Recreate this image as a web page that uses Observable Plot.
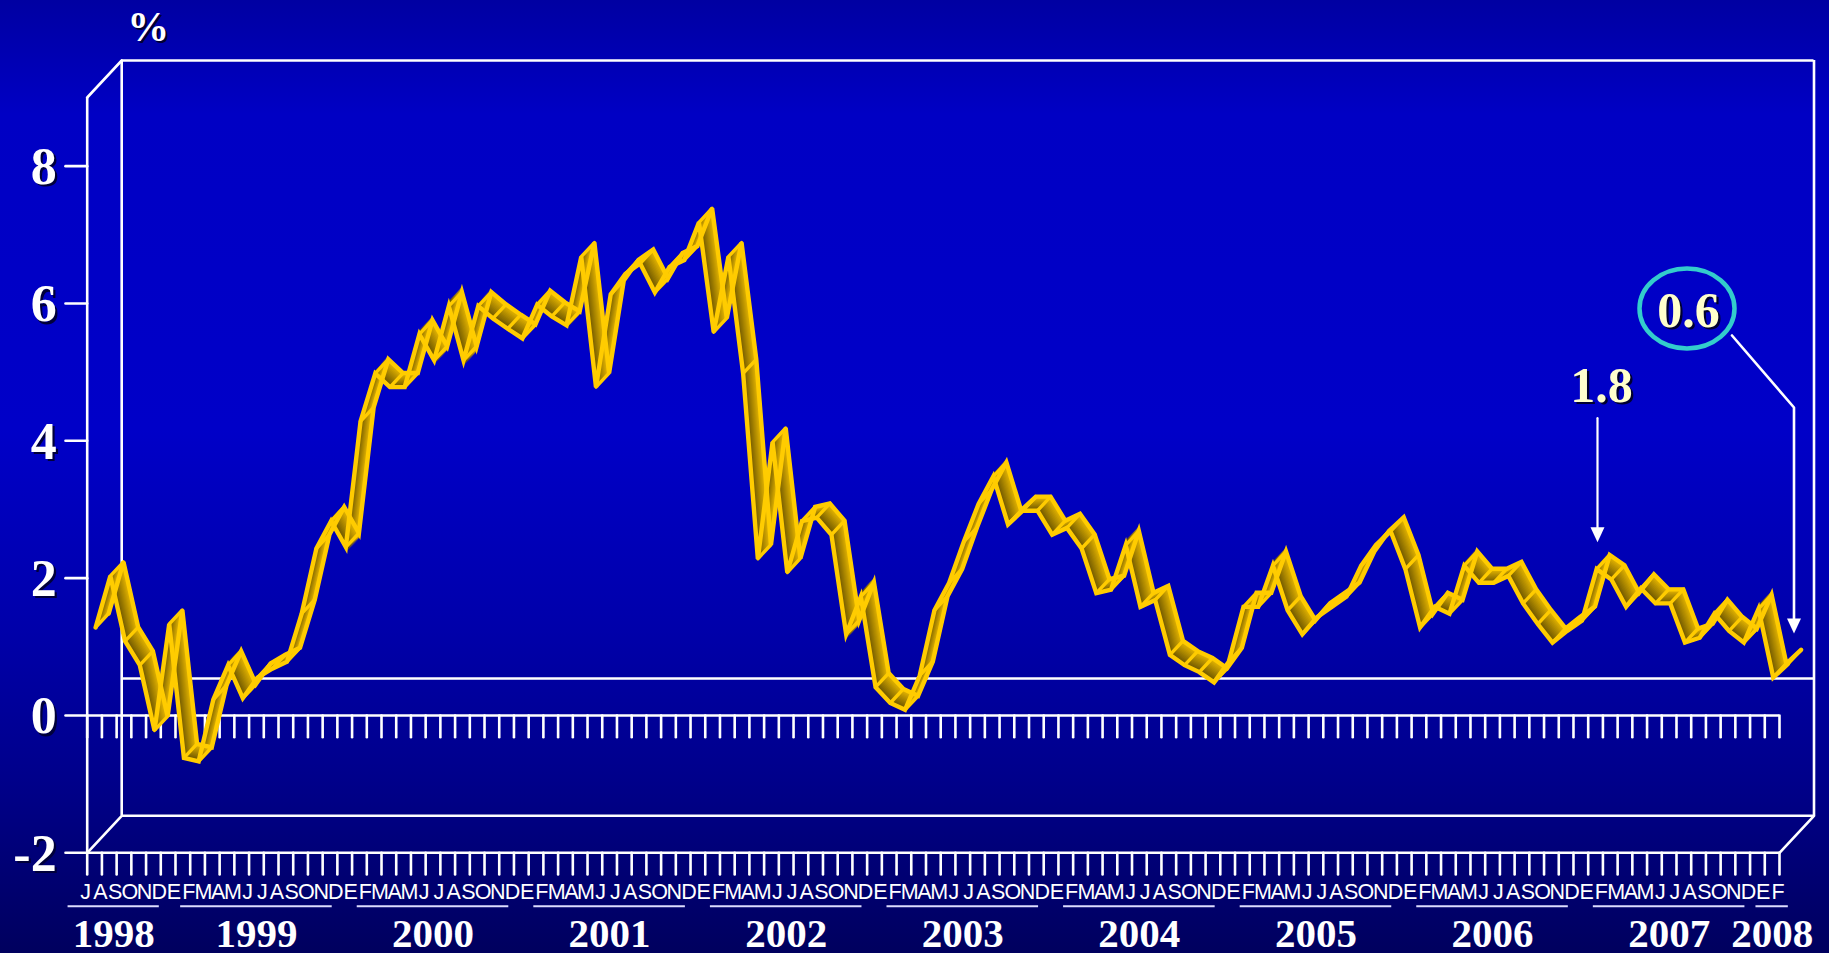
<!DOCTYPE html>
<html><head><meta charset="utf-8">
<script src="https://cdn.jsdelivr.net/npm/d3@7"></script>
<script src="https://cdn.jsdelivr.net/npm/@observablehq/plot@0.6"></script>
<style>
html,body{margin:0;padding:0;width:1829px;height:953px;overflow:hidden;
background:linear-gradient(to bottom,#0000a2 0%,#0000c4 12%,#0000c8 45%,#0000aa 66%,#00008a 82%,#00005e 100%);}
#chart svg{display:block}
</style></head><body><div id="chart"></div>
<script>
// ---- data ----
const monthInitials = ["E","F","M","A","M","J","J","A","S","O","N","D"];
const years = [1998,1999,2000,2001,2002,2003,2004,2005,2006,2007,2008];
const firstMonth = 6; // series starts in July 1998
const values1998 = [1.15, 1.9, 0.95, 0.6, -0.35, 1.2];
const values1999 = [-0.75, -0.8, 0.1, 0.6, 0.12, 0.42, 0.55, 0.65, 1.35, 2.3, 2.7, 2.32];
const values2000 = [4.15, 4.85, 4.65, 4.65, 5.42, 5.04, 5.83, 5.04, 5.83, 5.65, 5.5, 5.36];
const values2001 = [5.85, 5.68, 5.55, 6.55, 4.65, 6.0, 6.3, 6.45, 6.03, 6.4, 6.5, 7.05];
const values2002 = [5.45, 6.55, 4.85, 2.15, 3.85, 1.95, 2.7, 2.75, 2.5, 1.05, 1.6, 0.28];
const values2003 = [0.05, -0.05, 0.45, 1.4, 1.8, 2.4, 2.95, 3.35, 2.65, 2.85, 2.85, 2.5];
const values2004 = [2.6, 2.3, 1.65, 1.7, 2.35, 1.45, 1.55, 0.75, 0.6, 0.5, 0.35, 0.65];
const values2005 = [1.45, 1.45, 2.05, 1.4, 1.05, 1.3, 1.45, 1.6, 2.05, 2.35, 2.55, 2.0];
const values2006 = [1.15, 1.45, 1.35, 2.05, 1.8, 1.8, 1.9, 1.5, 1.2, 0.93, 1.1, 1.25];
const values2007 = [2.0, 1.85, 1.45, 1.72, 1.5, 1.5, 0.93, 1.0, 1.35, 1.1, 0.93, 1.42];
const values2008 = [0.42, 0.62];
const yTicks = [-2, 0, 2, 4, 6, 8];
const yDomain = [-2, 9];
const noteJan2007 = {label: "1.8", year: 2007, month: 0};
const noteLast = {label: "0.6", year: 2008, month: 1};

// ---- build table ----
const seriesByYear = [values1998, values1999, values2000, values2001, values2002, values2003,
  values2004, values2005, values2006, values2007, values2008];
const data = [];
seriesByYear.forEach((vals, k) => vals.forEach((v, j) => {
  const m = (k === 0 ? firstMonth : 0) + j;
  data.push({i: data.length, year: years[k], month: m, letter: monthInitials[m], value: v});
}));
const lastI = data.length - 1;
const yearsData = years.map((y, k) => {
  const idx = data.filter(d => d.year === y).map(d => d.i);
  const first = idx[0], last = idx[idx.length - 1], n = idx.length;
  const mid = (first + last) / 2 - (k === 0 ? 0.7 : 0);
  return {year: y, n, mid, half: n === 12 ? 5.15 : n / 2 + 0.1};
});
const pA = data.find(d => d.year === noteJan2007.year && d.month === noteJan2007.month);
const pB = data.find(d => d.year === noteLast.year && d.month === noteLast.month);

// ---- 3D geometry (pixels) ----
const DEPTH_X = 34.5, DEPTH_Y = -37;
const depthAngle = Math.atan2(DEPTH_X, -DEPTH_Y) * 180 / Math.PI;
const depthLen = Math.hypot(DEPTH_X, DEPTH_Y);
const RC = 0.435, RH = 0.19; // ribbon centre depth & half thickness (fraction of depth)
const lineShape = {draw(ctx, l) { ctx.moveTo(0, 0); ctx.lineTo(0, -l); }};
const W = "white", SW = 2.6, TICK = 21.7;
const gold = "#ffcc00";
const faceColor = d3.interpolateRgb("#5e4a00", "#e6b600");
const K = 15;
const ts = d3.range(K).map(k => -1 + 2 * k / (K - 1));

const headSymbol = {draw(ctx) { ctx.moveTo(0, 0); ctx.lineTo(-7, -15); ctx.lineTo(7, -15); ctx.closePath(); }};
const ellipseSymbol = {draw(ctx) {
  const rx = 47.5, ry = 40, k = 0.5523;
  ctx.moveTo(rx, 0);
  ctx.bezierCurveTo(rx, ry * k, rx * k, ry, 0, ry);
  ctx.bezierCurveTo(-rx * k, ry, -rx, ry * k, -rx, 0);
  ctx.bezierCurveTo(-rx, -ry * k, -rx * k, -ry, 0, -ry);
  ctx.bezierCurveTo(rx * k, -ry, rx, -ry * k, rx, 0);
  ctx.closePath();
}};
const calloutShape = {draw(ctx) { ctx.moveTo(0, -14); ctx.lineTo(0, -226); ctx.lineTo(-62, -298); }};
const arrowShape = {draw(ctx, l) { ctx.moveTo(0, -14); ctx.lineTo(0, -l); }};

const x0 = 0, x1 = lastI;
const serif = "Liberation Serif, Times New Roman, serif";
const sans = "Liberation Sans, Arial, sans-serif";

function shadowText(d, opts, color, shadow) {
  return [
    Plot.text(d, {...opts, dx: (opts.dx || 0) + 2.2, dy: (opts.dy || 0) + 2.2, fill: shadow}),
    Plot.text(d, {...opts, fill: color})
  ];
}

const marks = [
  // back wall
  Plot.ruleY([yDomain[1], yDomain[0], 0], {x1: () => x0, x2: () => x1, dx: DEPTH_X, dy: DEPTH_Y, stroke: W, strokeWidth: SW}),
  Plot.ruleX([x0, x1], {y1: () => yDomain[0], y2: () => yDomain[1], dx: DEPTH_X, dy: DEPTH_Y, stroke: W, strokeWidth: SW}),
  // depth edges
  Plot.vector([[x0, yDomain[1]], [x0, yDomain[0]], [x1, yDomain[0]]], {x: d => d[0], y: d => d[1], length: depthLen, rotate: depthAngle, anchor: "start", shape: lineShape, stroke: W, strokeWidth: SW}),
  // front axis and lines
  Plot.ruleX([x0], {y1: () => yDomain[0], y2: () => yDomain[1], stroke: W, strokeWidth: SW}),
  Plot.ruleY([yDomain[0], 0], {x1: () => x0, x2: () => x1, stroke: W, strokeWidth: SW}),
  Plot.vector(yTicks, {x: () => x0, y: d => d, length: TICK, rotate: -90, anchor: "start", shape: lineShape, stroke: W, strokeWidth: SW}),
  Plot.vector(data, {x: "i", y: () => 0, length: TICK, rotate: 180, anchor: "start", shape: lineShape, stroke: W, strokeWidth: SW}),
  Plot.vector(data, {x: "i", y: () => yDomain[0], length: TICK, rotate: 180, anchor: "start", shape: lineShape, stroke: W, strokeWidth: SW}),
  // y labels
  ...shadowText(yTicks, {x: () => x0, y: d => d, text: d => d < 0 ? "-" + Math.abs(d) : String(d), textAnchor: "end", lineAnchor: "bottom", dx: -30.5, dy: 18, fontSize: 52, fontWeight: "bold", fontFamily: serif}, W, "#00003a"),
  // month letters
  Plot.text(data, {x: "i", y: () => yDomain[0], text: "letter", dx: -1.5, dy: 46, lineAnchor: "bottom", fontSize: 21.5, fontFamily: sans, fill: W}),
  // year underline + labels
  Plot.ruleY(yearsData, {y: () => yDomain[0], x1: d => d.mid - d.half, x2: d => d.mid + d.half, dy: 53.4, stroke: "#dcdcff", strokeWidth: 2}),
  Plot.text(yearsData, {x: "mid", y: () => yDomain[0], text: d => String(d.year), dy: 94.4, lineAnchor: "bottom", fontSize: 41, fontWeight: "bold", fontFamily: serif, fill: W}),
  // ribbon faces
  ...ts.map(t => Plot.line(data, {x: "i", y: "value", dx: DEPTH_X * (RC + t * RH), dy: DEPTH_Y * (RC + t * RH), stroke: faceColor((t + 1) / 2), strokeWidth: 3, strokeLinejoin: "miter", strokeMiterlimit: 4})),
  // ribbon outline
  ...[-1, 1].map(t => Plot.line(data, {x: "i", y: "value", dx: DEPTH_X * (RC + t * RH), dy: DEPTH_Y * (RC + t * RH), stroke: gold, strokeWidth: 4.4, strokeLinejoin: "miter", strokeMiterlimit: 4})),
  Plot.vector(data, {x: "i", y: "value", dx: DEPTH_X * (RC - RH), dy: DEPTH_Y * (RC - RH), length: depthLen * 2 * RH, rotate: depthAngle, anchor: "start", shape: lineShape, stroke: gold, strokeWidth: 3.4}),
  // annotation 1.8
  Plot.vector([pA], {x: "i", y: "value", dx: 9.3, dy: -36, length: 124, anchor: "start", shape: arrowShape, stroke: W, strokeWidth: 2.2}),
  Plot.dot([pA], {x: "i", y: "value", dx: 9.3, dy: -36, symbol: headSymbol, fill: W, stroke: "none"}),
  ...shadowText([pA], {x: "i", y: "value", text: () => noteJan2007.label, dx: 13.3, dy: -176, lineAnchor: "bottom", fontSize: 50, fontWeight: "bold", fontFamily: serif}, "#ffffcc", "#000030"),
  // annotation 0.6
  Plot.vector([pB], {x: "i", y: "value", dx: 14.5, dy: -39.4, anchor: "start", shape: calloutShape, stroke: W, strokeWidth: 2.6, fill: "none"}),
  Plot.dot([pB], {x: "i", y: "value", dx: 14.5, dy: -39.4, symbol: headSymbol, fill: W, stroke: "none"}),
  Plot.dot([pB], {x: "i", y: "value", dx: -92.5, dy: -364.4, symbol: ellipseSymbol, fill: "none", stroke: "#33cccc", strokeWidth: 4.5}),
  ...shadowText([pB], {x: "i", y: "value", text: () => noteLast.label, dx: -91, dy: -345.7, lineAnchor: "bottom", fontSize: 50, fontWeight: "bold", fontFamily: serif}, "#ffffcc", "#000030"),
  // unit
  ...shadowText(["%"], {frameAnchor: "top-left", text: d => d, textAnchor: "middle", dx: 61, dy: -57, lineAnchor: "bottom", fontSize: 42, fontWeight: "bold", fontFamily: serif}, W, "#000030")
];

const chart = Plot.plot({
  width: 1829, height: 953,
  marginLeft: 86.7, marginRight: 50, marginTop: 97, marginBottom: 100.7,
  x: {domain: [x0, x1], axis: null},
  y: {domain: yDomain, axis: null},
  style: {background: "transparent", overflow: "visible"},
  marks
});
document.getElementById("chart").appendChild(chart);
</script>
</body></html>
